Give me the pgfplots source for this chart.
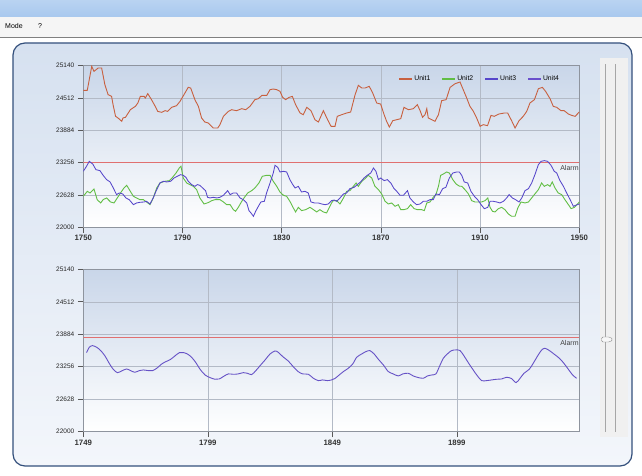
\documentclass[border=0pt]{standalone}
\usepackage{fontspec}
\setmainfont{Liberation Sans}
\usepackage{pgfplots}
\usepackage{pgfplotstable}
\pgfplotsset{compat=1.18}
\definecolor{uA}{HTML}{C8603F}
\definecolor{uB}{HTML}{62BE45}
\definecolor{uC}{HTML}{5646CA}
\definecolor{uD}{HTML}{6A50CC}
\definecolor{uE}{HTML}{6652C6}
\definecolor{alarmc}{HTML}{E07070}
\definecolor{gridc}{HTML}{B3BAC6}
\definecolor{axc}{HTML}{8E949E}
\definecolor{bgtop}{HTML}{C9D6E9}
\definecolor{paneltop}{HTML}{D6E1F0}
\definecolor{panelbot}{HTML}{F3F6FB}
\definecolor{paneledge}{HTML}{34507C}
\definecolor{titlebar}{HTML}{A8C8EE}

\pgfplotstableread[row sep=\\]{
x y\\
1750 24661\\ 1751.6 24661\\ 1753.4 25127\\ 1754.3 25030\\ 1756 25095\\ 1757.4 25095\\ 1758.7 24771\\ 1760 24577\\ 1761.4 24545\\ 1762 24383\\ 1763 24157\\ 1764 24124\\ 1765.5 24060\\ 1766 24124\\ 1767 24137\\ 1769 24286\\ 1771 24350\\ 1772 24415\\ 1773 24545\\ 1774.5 24545\\ 1775 24512\\ 1776 24597\\ 1777.5 24480\\ 1779 24350\\ 1780 24253\\ 1781.6 24234\\ 1783 24266\\ 1784 24253\\ 1785.6 24331\\ 1787.6 24363\\ 1789 24447\\ 1790.6 24577\\ 1792.3 24720\\ 1793.3 24706\\ 1795 24480\\ 1796.4 24350\\ 1797.7 24124\\ 1799 24046\\ 1800.4 24026\\ 1802.4 23929\\ 1804.2 23929\\ 1805.1 23994\\ 1806.5 24156\\ 1808.5 24253\\ 1809.8 24285\\ 1811.8 24266\\ 1813.9 24305\\ 1815.5 24285\\ 1817.2 24350\\ 1819.2 24480\\ 1820.6 24499\\ 1822 24564\\ 1824 24564\\ 1825.3 24674\\ 1826.6 24687\\ 1828 24674\\ 1829.3 24642\\ 1830.4 24525\\ 1831.6 24480\\ 1833 24525\\ 1834.3 24544\\ 1835.6 24383\\ 1837.4 24221\\ 1838.7 24188\\ 1840.1 24331\\ 1841.8 24266\\ 1843.4 24091\\ 1844.8 24046\\ 1846.8 24266\\ 1848.5 24091\\ 1849.9 23962\\ 1851.5 23962\\ 1852.4 24156\\ 1854.2 24188\\ 1856.2 24221\\ 1857.8 24240\\ 1859.6 24577\\ 1860.9 24758\\ 1862.3 24706\\ 1863.6 24706\\ 1865.3 24739\\ 1866.7 24609\\ 1868.3 24415\\ 1869.9 24395\\ 1871.3 24188\\ 1872.3 24059\\ 1873.4 23949\\ 1874.8 24072\\ 1876.4 24091\\ 1878 24111\\ 1879.3 24331\\ 1881.1 24285\\ 1883.1 24305\\ 1884.7 24383\\ 1885.8 24266\\ 1886.8 24137\\ 1887.8 24188\\ 1888.5 24305\\ 1889.1 24124\\ 1890.5 24091\\ 1891.8 24059\\ 1893.2 24188\\ 1894.5 24460\\ 1896.3 24480\\ 1897.9 24719\\ 1899.9 24790\\ 1901.9 24823\\ 1903.2 24674\\ 1904.6 24512\\ 1905.9 24350\\ 1907.3 24253\\ 1908.6 24124\\ 1910 23962\\ 1911.3 23994\\ 1913 23975\\ 1914.4 24175\\ 1915.7 24156\\ 1917.6 24201\\ 1919.8 24221\\ 1921.1 24221\\ 1922.7 24072\\ 1924.1 23929\\ 1925.7 24072\\ 1927.4 24156\\ 1928.8 24253\\ 1930.1 24415\\ 1931.9 24480\\ 1933.5 24693\\ 1935.1 24719\\ 1936.4 24642\\ 1938.2 24499\\ 1939.5 24350\\ 1940.9 24331\\ 1942.6 24266\\ 1943.9 24266\\ 1945.6 24201\\ 1946.9 24175\\ 1948.3 24156\\ 1950 24240\\
}\unitA

\pgfplotstableread[row sep=\\]{
x y\\
1750 22602\\ 1751.6 22699\\ 1752.7 22667\\ 1754.3 22745\\ 1755.6 22537\\ 1757 22473\\ 1758 22537\\ 1759.4 22570\\ 1761 22492\\ 1762.4 22473\\ 1763.7 22570\\ 1765 22667\\ 1766.4 22764\\ 1767.5 22816\\ 1768.8 22712\\ 1770.2 22602\\ 1771.5 22570\\ 1772.8 22537\\ 1774.2 22537\\ 1775.5 22492\\ 1776.9 22440\\ 1778.2 22570\\ 1779.6 22764\\ 1780.9 22861\\ 1782.9 22894\\ 1784.7 22907\\ 1786 22971\\ 1787.4 23055\\ 1788.7 23152\\ 1789.4 23185\\ 1790.3 22958\\ 1791.7 22861\\ 1793 22829\\ 1794.4 22796\\ 1795.7 22732\\ 1797 22570\\ 1798.7 22453\\ 1800.4 22480\\ 1801.8 22518\\ 1803.1 22537\\ 1805.1 22537\\ 1806.5 22492\\ 1807.8 22440\\ 1809.2 22440\\ 1810.5 22343\\ 1811.4 22311\\ 1812.5 22388\\ 1813.9 22505\\ 1815 22583\\ 1816.3 22667\\ 1817.9 22712\\ 1819.2 22764\\ 1820.8 22861\\ 1822.2 22991\\ 1823.9 23010\\ 1825.3 23010\\ 1826.6 22894\\ 1828 22796\\ 1829.3 22686\\ 1830.7 22622\\ 1832 22602\\ 1833.3 22505\\ 1834.7 22375\\ 1835.6 22298\\ 1836.7 22388\\ 1838 22324\\ 1839.7 22343\\ 1841.4 22388\\ 1842.8 22343\\ 1844.1 22298\\ 1845.4 22343\\ 1846.8 22298\\ 1848.1 22279\\ 1849.1 22375\\ 1850.1 22473\\ 1850.8 22518\\ 1852.2 22518\\ 1853.5 22453\\ 1854.9 22570\\ 1856.2 22699\\ 1857.5 22712\\ 1858.9 22796\\ 1860 22861\\ 1860.9 22796\\ 1862.3 22894\\ 1863.6 22945\\ 1864.9 23010\\ 1866.3 22958\\ 1867.6 22796\\ 1869 22732\\ 1870.3 22648\\ 1871.7 22505\\ 1873 22453\\ 1874.3 22473\\ 1875.7 22408\\ 1877 22440\\ 1878 22343\\ 1879.3 22343\\ 1880.7 22362\\ 1882 22440\\ 1883.4 22362\\ 1884.7 22343\\ 1886.4 22343\\ 1887.5 22324\\ 1888.5 22473\\ 1889.8 22492\\ 1891.1 22583\\ 1892.2 22635\\ 1893.2 22796\\ 1894.1 23010\\ 1895.2 23036\\ 1896.5 23075\\ 1897.6 23055\\ 1899 22926\\ 1900.3 22842\\ 1901.6 22800\\ 1902.6 22796\\ 1903.9 22732\\ 1905.3 22648\\ 1906.6 22518\\ 1907.9 22492\\ 1909.3 22492\\ 1910.6 22492\\ 1912 22518\\ 1913.1 22570\\ 1914 22388\\ 1915 22311\\ 1916 22298\\ 1917.4 22362\\ 1918.7 22388\\ 1920 22343\\ 1921.4 22259\\ 1922.7 22214\\ 1924.1 22214\\ 1925.2 22375\\ 1926.5 22492\\ 1928.1 22473\\ 1929.5 22492\\ 1930.8 22570\\ 1932.1 22648\\ 1933.5 22732\\ 1934.8 22861\\ 1935.9 22796\\ 1937.2 22829\\ 1938.2 22796\\ 1939.1 22881\\ 1940.2 22764\\ 1941.5 22667\\ 1942.9 22635\\ 1944.2 22537\\ 1945.6 22440\\ 1946.7 22362\\ 1948 22388\\ 1949.3 22453\\ 1950 22492\\
}\unitB

\pgfplotstableread[row sep=\\]{
x y\\
1750 23088\\ 1751.3 23185\\ 1752.4 23282\\ 1753.8 23230\\ 1755.1 23120\\ 1756.7 23101\\ 1758 23010\\ 1759.4 22926\\ 1760.8 22881\\ 1762.1 22764\\ 1763.4 22635\\ 1764.5 22667\\ 1765.9 22648\\ 1767.2 22570\\ 1768.5 22537\\ 1770.2 22440\\ 1771.5 22473\\ 1772.8 22485\\ 1774.5 22492\\ 1775.5 22505\\ 1776.9 22453\\ 1778.2 22570\\ 1779.3 22699\\ 1780.9 22861\\ 1782.3 22894\\ 1783.6 22881\\ 1785.2 22894\\ 1786.6 22958\\ 1787.9 22991\\ 1789.2 23023\\ 1790.3 23010\\ 1791.4 22971\\ 1792.3 22894\\ 1793.7 22829\\ 1795 22796\\ 1796 22829\\ 1797 22816\\ 1798.4 22751\\ 1799.3 22712\\ 1800.1 22583\\ 1801.1 22570\\ 1802.4 22583\\ 1803.8 22570\\ 1805.1 22583\\ 1806.5 22622\\ 1808.2 22712\\ 1809.2 22635\\ 1810.5 22667\\ 1811.8 22667\\ 1813.2 22570\\ 1814.5 22537\\ 1815.9 22473\\ 1816.8 22324\\ 1817.6 22279\\ 1818.6 22214\\ 1819.5 22311\\ 1820.6 22408\\ 1821.6 22492\\ 1823 22505\\ 1823.9 22667\\ 1825.3 22861\\ 1826.6 23055\\ 1827.3 23204\\ 1828.4 23165\\ 1829.3 23075\\ 1830.7 23088\\ 1832 23075\\ 1833.3 22926\\ 1834.3 22842\\ 1835.4 22764\\ 1836.7 22796\\ 1838 22686\\ 1839.4 22699\\ 1840.7 22667\\ 1841.8 22492\\ 1843.2 22473\\ 1844.8 22473\\ 1846.1 22453\\ 1847.5 22440\\ 1848.8 22453\\ 1850.1 22518\\ 1851.2 22530\\ 1852.2 22505\\ 1853.5 22570\\ 1854.9 22648\\ 1856.2 22667\\ 1857.5 22751\\ 1859.2 22777\\ 1860.5 22829\\ 1861.8 22881\\ 1863.2 22958\\ 1864.5 23010\\ 1865.9 23055\\ 1867 23152\\ 1868 23088\\ 1869 22926\\ 1869.9 22958\\ 1871.3 22907\\ 1872.6 22926\\ 1874 22861\\ 1875.3 22751\\ 1876.4 22699\\ 1877.7 22622\\ 1879.1 22622\\ 1880.7 22712\\ 1881.7 22570\\ 1883.1 22492\\ 1884.4 22440\\ 1885.8 22453\\ 1887.1 22505\\ 1888.5 22505\\ 1889.8 22537\\ 1891.1 22537\\ 1892.2 22648\\ 1893.6 22635\\ 1894.9 22751\\ 1896.2 22777\\ 1897.6 22958\\ 1899 23055\\ 1900.6 23075\\ 1901.6 23075\\ 1902.6 23010\\ 1903.6 22881\\ 1905 22861\\ 1906.3 22699\\ 1907.7 22602\\ 1909 22537\\ 1910.4 22440\\ 1911.7 22362\\ 1913.1 22388\\ 1914 22505\\ 1915.3 22505\\ 1916.7 22492\\ 1918 22473\\ 1919.4 22505\\ 1920.7 22570\\ 1921.7 22635\\ 1923 22570\\ 1924.3 22537\\ 1925.7 22492\\ 1926.8 22570\\ 1928.1 22712\\ 1929.5 22751\\ 1930.8 22861\\ 1932.1 23023\\ 1933.5 23218\\ 1934.6 23282\\ 1935.9 23295\\ 1937.2 23282\\ 1938.6 23204\\ 1939.9 23088\\ 1940.9 23055\\ 1942.2 22907\\ 1943.6 22796\\ 1944.9 22667\\ 1946.3 22537\\ 1947.6 22408\\ 1948.5 22427\\ 1950 22453\\
}\unitC

\pgfplotstableread[row sep=\\]{
x y\\
1750.3 23529\\ 1751.4 23632\\ 1752.7 23664\\ 1754.4 23632\\ 1756 23568\\ 1757.7 23465\\ 1759.4 23323\\ 1761 23207\\ 1762.7 23142\\ 1764.4 23175\\ 1766.4 23213\\ 1768 23181\\ 1769.7 23149\\ 1771.5 23181\\ 1773.1 23194\\ 1775.1 23181\\ 1776.8 23181\\ 1778.5 23226\\ 1780.5 23310\\ 1782.2 23355\\ 1784.1 23400\\ 1785.8 23465\\ 1787.6 23529\\ 1789.2 23529\\ 1790.8 23503\\ 1792.5 23439\\ 1794.2 23336\\ 1795.9 23207\\ 1797.9 23097\\ 1799.9 23046\\ 1801.9 23014\\ 1803.6 23020\\ 1805.2 23065\\ 1807.2 23117\\ 1809.2 23110\\ 1811.2 23117\\ 1813.3 23142\\ 1814.9 23130\\ 1816.6 23104\\ 1818.3 23181\\ 1819.9 23271\\ 1822 23387\\ 1824 23503\\ 1826 23561\\ 1827.3 23535\\ 1829.1 23452\\ 1831.3 23368\\ 1833.3 23258\\ 1835.3 23162\\ 1837.1 23117\\ 1839.4 23110\\ 1841.4 23033\\ 1843.4 22988\\ 1845.1 23001\\ 1847 22988\\ 1848.7 23001\\ 1850.1 23030\\ 1851.6 23090\\ 1853.4 23160\\ 1855.4 23226\\ 1857.2 23310\\ 1858.8 23439\\ 1860.8 23503\\ 1862.5 23548\\ 1864.1 23568\\ 1865.8 23503\\ 1867.5 23400\\ 1869.5 23291\\ 1871.5 23162\\ 1873.5 23117\\ 1875.5 23078\\ 1877.3 23117\\ 1879.5 23130\\ 1881.5 23078\\ 1883.6 23046\\ 1885.6 23033\\ 1887.2 23078\\ 1888.9 23097\\ 1890.6 23117\\ 1892 23258\\ 1893.6 23420\\ 1895.2 23503\\ 1896.9 23568\\ 1898.7 23581\\ 1900.3 23568\\ 1901.9 23465\\ 1903.6 23336\\ 1905.4 23207\\ 1907 23097\\ 1909 22988\\ 1911 22988\\ 1913 23001\\ 1915 23014\\ 1917 23020\\ 1919 23052\\ 1921 23027\\ 1922.8 22949\\ 1924.4 23033\\ 1926 23130\\ 1928.1 23207\\ 1929.7 23323\\ 1931.7 23484\\ 1933.1 23581\\ 1934.4 23613\\ 1936.2 23568\\ 1938 23503\\ 1940.2 23420\\ 1942 23323\\ 1943.8 23207\\ 1945.5 23097\\ 1947.1 23033\\
}\unitE

\pgfplotsset{
  chartstyle/.style={
    scale only axis, width=496pt, anchor=south west,
    ymin=22000, ymax=25140,
    ytick={22000,22628,23256,23884,24512,25140},
    grid=major, major grid style={color=gridc, line width=0.5pt},
    tick align=outside, tick pos=left, major tick length=5.5pt,
    axis line style={color=axc, line width=0.7pt},
    tick style={color=black!65, line width=0.6pt},
    axis background/.style={top color=bgtop, bottom color=white},
    /pgf/number format/assume math mode=true,
    /pgf/number format/1000 sep={},
    scaled ticks=false,
    x tick label style={font=\fontsize{7.8}{9}\selectfont\bfseries, text=black!80, yshift=1pt},
    y tick label style={font=\fontsize{6.5}{7}\selectfont, text=black!85},
  }
}

\begin{document}
\begin{tikzpicture}
\useasboundingbox (0pt,0pt) rectangle (642pt,476pt);
\fill[white] (0pt,0pt) rectangle (642pt,476pt);
% title bar and menu
\shade[top color=titlebar!80!white, bottom color=titlebar] (0pt,459pt) rectangle (642pt,476pt);
\fill[black!4] (0pt,439pt) rectangle (642pt,459pt);
\node[anchor=west, inner sep=0pt, font=\fontsize{7}{8}\selectfont] at (5pt,449.5pt) {Mode};
\node[anchor=west, inner sep=0pt, font=\fontsize{7}{8}\selectfont] at (38pt,449.5pt) {?};
\fill[black!50] (0pt,437.5pt) rectangle (642pt,439pt);
% panel
\shadedraw[top color=paneltop, bottom color=panelbot, draw=paneledge, line width=1.2pt, rounded corners=12pt] (13pt,10pt) rectangle (632pt,433pt);
% slider
\fill[black!6] (600pt,39pt) rectangle (628pt,418pt);
\draw[black!35, line width=0.6pt] (605pt,44pt) -- (605pt,412pt);
\draw[black!35, line width=0.6pt] (615pt,44pt) -- (615pt,412pt);
\draw[black!45, fill=black!3, rounded corners=1.5pt] (601.5pt,134pt) -- (610pt,134pt) -- (613pt,136.5pt) -- (610pt,139pt) -- (601.5pt,139pt) -- cycle;

% top chart
\begin{axis}[chartstyle, at={(83.3pt,248.7pt)}, height=161.6pt,
  xmin=1750, xmax=1950, xtick={1750,1790,1830,1870,1910,1950},
  legend columns=4,
  legend style={at={(rel axis cs:0.968,0.918)}, anchor=east, draw=none, fill=none,
    font=\fontsize{6.8}{7}\selectfont, nodes={inner sep=1.3pt},
    /tikz/every even column/.append style={column sep=10pt}},
  legend image code/.code={\draw[#1, line width=1.4pt] (0pt,0pt) -- (13pt,0pt);},
]
\addplot[alarmc, line width=1.1pt, forget plot] coordinates {(1750,23256) (1950,23256)};
\addplot[uA, line width=0.9pt] table[x=x,y=y] {\unitA};
\addlegendentry{Unit1}
\addplot[uB, line width=0.9pt] table[x=x,y=y] {\unitB};
\addlegendentry{Unit2}
\addplot[uC, line width=0.85pt] table[x=x,y=y] {\unitC};
\addlegendentry{Unit3}
\addlegendimage{uD, line width=1.4pt}
\addlegendentry{Unit4}
\node[anchor=north east, inner sep=0.5pt, font=\fontsize{7}{8}\selectfont, text=black!75] at (axis cs:1950,23210) {Alarm};
\end{axis}

% bottom chart
\begin{axis}[chartstyle, at={(83.3pt,44.3pt)}, height=162.4pt,
  xmin=1749, xmax=1948.2, xtick={1749,1799,1849,1899},
]
\addplot[alarmc, line width=1.1pt] coordinates {(1749,23830) (1948.2,23830)};
\addplot[uE, line width=0.9pt, smooth] table[x=x,y=y] {\unitE};
\node[anchor=north east, inner sep=0.5pt, font=\fontsize{7}{8}\selectfont, text=black!75] at (axis cs:1948.2,23784) {Alarm};
\end{axis}
\end{tikzpicture}
\end{document}
